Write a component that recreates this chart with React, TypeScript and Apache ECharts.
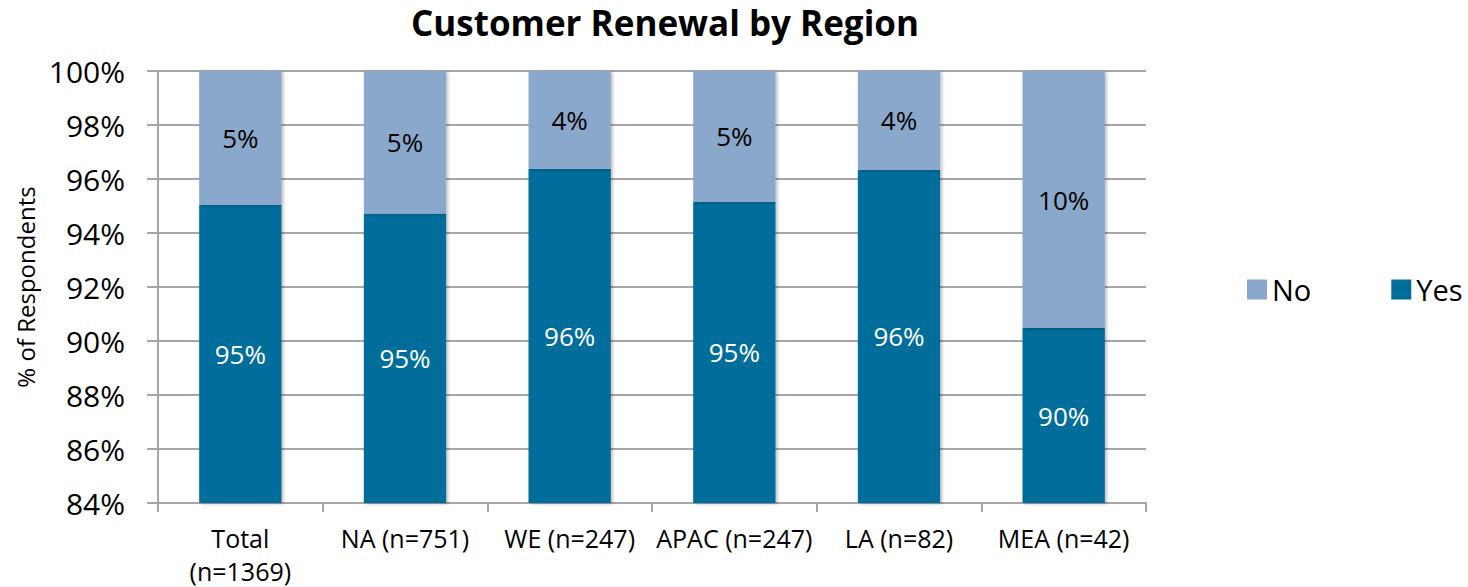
import React, { useEffect, useRef } from "react";
import * as echarts from "echarts";

const categories = ["Total\n(n=1369)", "NA (n=751)", "WE (n=247)", "APAC (n=247)", "LA (n=82)", "MEA (n=42)"];
const yesValues = [95.05, 94.72, 96.38, 95.16, 96.34, 90.48];
const noValues = [4.95, 5.28, 3.62, 4.84, 3.66, 9.52];
const yTicks = { min: 84, max: 100, interval: 2 };

const FONT = "'Open Sans', 'Noto Sans', sans-serif";

export default function App() {
  const ref = useRef<HTMLDivElement>(null);
  useEffect(() => {
    if (!ref.current) return;
    const chart = echarts.init(ref.current, null, { renderer: "svg" });
    const shadow = {
      shadowBlur: 3,
      shadowColor: "rgba(0,0,0,0.25)",
      shadowOffsetX: 2,
      shadowOffsetY: 1,
    };
    chart.setOption({
      animation: false,
      backgroundColor: "#ffffff",
      textStyle: { fontFamily: FONT },
      title: {
        text: "Customer Renewal by Region",
        left: 660,
        textAlign: "center",
        top: 0,
        textStyle: { fontFamily: FONT, fontSize: 35, fontWeight: "bold", color: "#000" },
      },
      legend: {
        data: ["No", "Yes"],
        left: 1242,
        top: 270,
        itemWidth: 20,
        itemHeight: 20,
        itemGap: 80,
        icon: "rect",
        textStyle: { fontFamily: FONT, fontSize: 29, color: "#000", padding: [0, 0, 0, 0] },
      },
      grid: { left: 158, right: 322, top: 71, bottom: 84 - 4, containLabel: false },
      xAxis: {
        type: "category",
        data: categories,
        boundaryGap: true,
        axisLine: { show: true, lineStyle: { color: "#a6a6a6", width: 2 } },
        axisTick: { show: true, length: 9, lineStyle: { color: "#a6a6a6", width: 2 } },
        axisLabel: {
          interval: 0,
          margin: 18,
          fontFamily: FONT,
          fontSize: 25,
          color: "#000",
          lineHeight: 33,
        },
      },
      yAxis: {
        type: "value",
        min: yTicks.min,
        max: yTicks.max,
        interval: yTicks.interval,
        name: "% of Respondents",
        nameLocation: "middle",
        nameGap: 117,
        nameTextStyle: { fontFamily: FONT, fontSize: 24, color: "#000" },
        axisLine: { show: true, lineStyle: { color: "#a6a6a6", width: 2 } },
        axisTick: { show: true, length: 11, inside: false, lineStyle: { color: "#a6a6a6", width: 2 } },
        splitLine: { show: true, lineStyle: { color: "#a6a6a6", width: 2 } },
        axisLabel: {
          margin: 33,
          fontFamily: FONT,
          fontSize: 30,
          color: "#000",
          formatter: (v: number) => `${v}%`,
        },
      },
      series: [
        {
          name: "Yes",
          type: "bar",
          stack: "total",
          barWidth: "50%",
          data: yesValues,
          itemStyle: { color: "#026d9b", ...shadow },
          label: {
            show: true,
            position: "inside",
            color: "#ffffff",
            fontFamily: FONT,
            fontSize: 26,
            formatter: (p: any) => `${Math.round(p.value)}%`,
          },
        },
        {
          name: "No",
          type: "bar",
          stack: "total",
          barWidth: "50%",
          data: noValues,
          itemStyle: { color: "#8aa8cb", ...shadow },
          label: {
            show: true,
            position: "inside",
            color: "#000000",
            fontFamily: FONT,
            fontSize: 26,
            formatter: (p: any) => `${Math.round(p.value)}%`,
          },
        },
      ],
    });
    return () => chart.dispose();
  }, []);
  return (
    <div
      ref={ref}
      style={{ position: "fixed", left: 0, top: 0, width: 1468, height: 587, background: "#fff" }}
    />
  );
}
